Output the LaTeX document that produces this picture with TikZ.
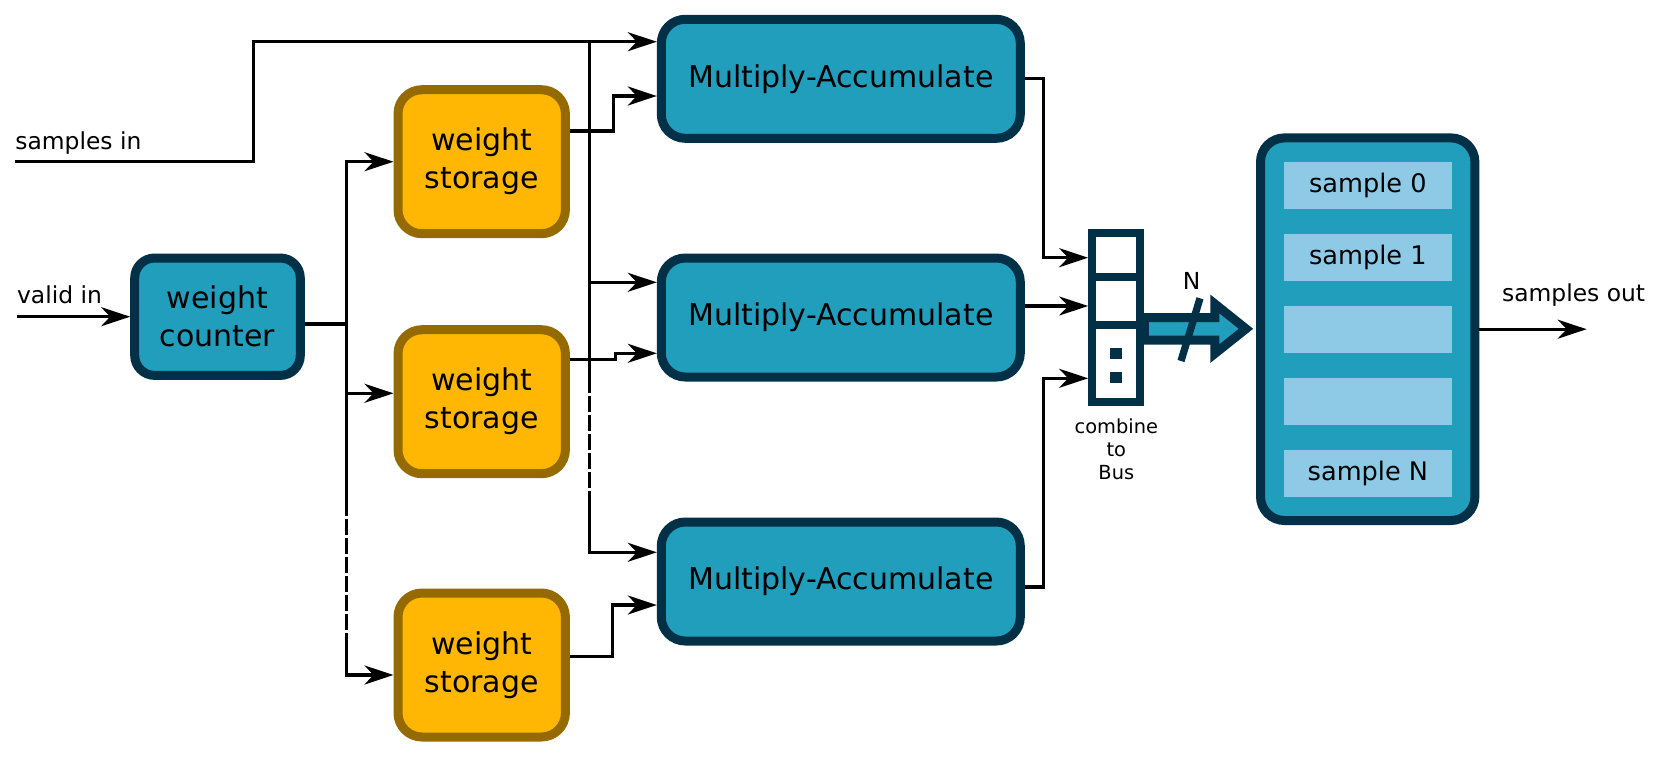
\documentclass[tikz,border=0pt]{standalone}
\usepackage{fontspec}
\setmainfont{DejaVu Sans}
\usepackage{tikz}
\usetikzlibrary{arrows.meta}
\definecolor{accnavy}{HTML}{023047}
\definecolor{accblue}{HTML}{219EBC}
\definecolor{slotblue}{HTML}{8ECAE6}
\definecolor{wsyellow}{HTML}{FFB703}
\definecolor{wsbrown}{HTML}{956A00}

\begin{document}
\begin{tikzpicture}[x=0.5pt, y=-0.5pt, >={Stealth[length=14.5pt, width=9.5pt, inset=4.5pt]},
  wire/.style={line width=1.6pt},
  feed/.style={wire, ->},
  dashwire/.style={wire, dash pattern=on 8pt off 1.5pt},
  block/.style={draw=accnavy, fill=accblue, line width=4.5pt, rounded corners=12pt,
    inner sep=0pt, align=center, font=\fontsize{15pt}{19pt}\selectfont},
  wsblock/.style={block, draw=wsbrown, fill=wsyellow, minimum width=83.7pt, minimum height=72pt},
  macblock/.style={block, minimum width=179.5pt, minimum height=59.5pt},
  slot/.style={fill=slotblue, minimum width=83.8pt, minimum height=23.5pt, inner sep=0pt,
    font=\fontsize{12.8pt}{15pt}\selectfont},
  lbl/.style={inner sep=0pt, font=\fontsize{11.7pt}{14pt}\selectfont},
  busarrow/.style={draw=accnavy, fill=accblue, line width=4.5pt, line join=miter}
]
  \useasboundingbox (0,0) rectangle (1656,756);

  % blocks
  \node[block, minimum width=82.8pt, minimum height=58.7pt, rounded corners=10pt] (wc) at (217.5,316.7) {weight\\counter};
  \foreach \i/\y in {1/161.7, 2/401.7, 3/665}
    \node[wsblock] (ws\i) at (481.7,\y) {weight\\storage};
  \foreach \i/\y in {1/78.8, 2/317.5, 3/581.5}
    \node[macblock] (mac\i) at (840.8,\y) {Multiply-Accumulate};

  % combine to bus
  \node[draw=accnavy, line width=4.15pt, minimum width=24pt, minimum height=84.2pt, inner sep=0pt] (bus) at (1116.3,317.5) {};
  \foreach \d in {24pt,48pt}
    \draw[accnavy, line width=4.15pt] ([yshift=-\d]bus.north west) -- ([yshift=-\d]bus.north east);
  \foreach \y in {347.7,371.7}
    \fill[accnavy] (1110,\y) rectangle ++(12.3,11.6);
  \node[inner sep=0pt, anchor=north, align=center, font=\fontsize{9.7pt}{11.5pt}\selectfont] (busl) at (1116.3,418.3) {combine\\to\\Bus};

  % sample store
  \node[block, minimum width=107.2pt, minimum height=191.3pt] (store) at (1367.7,329.2) {};
  \foreach \k/\txt in {0/sample 0, 1/sample 1, 2/, 3/, 4/sample N}
    \node[slot] (slot\k) at (1367.9,{185.8+71.8*\k}) {\txt};

  % inputs
  \coordinate (sin) at (15,161.7);
  \coordinate (vin) at (16.7,316.7);
  \coordinate (sout) at (1586.7,329.2);
  \node[lbl, anchor=base west] (sinl) at (15,149) {samples in};
  \node[lbl, anchor=base west] (vinl) at (16.7,303.3) {valid in};
  \node[lbl, anchor=base west] (soutl) at (1501.7,301.7) {samples out};

  \draw[feed] (vin) -- (wc.west);
  \draw[feed] (sin) -- (253.3,161.7) |- ([yshift=18.55pt]mac1.west);

  % samples spine
  \coordinate (sp) at (589.3,41.7);
  \coordinate (sp1) at (589.3,376.7);
  \coordinate (sp2) at (589.3,496.7);
  \draw[feed] (sp) |- ([yshift=17.6pt]mac2.west);
  \draw[wire] (sp) -- (sp1);
  \draw[dashwire] (sp1) -- (sp2);
  \draw[feed] (sp2) |- ([yshift=14.6pt]mac3.west);

  % weight fan-out
  \coordinate (split) at (346.7,324);
  \coordinate (dl1) at (346.7,500);
  \coordinate (dl2) at (346.7,640);
  \draw[wire] (wc.east |- split) -- (split);
  \draw[feed] (split) |- (ws1.west);
  \draw[feed] (split) |- ([yshift=4.2pt]ws2.west);
  \draw[wire] (split) -- (dl1);
  \draw[dashwire] (dl1) -- (dl2);
  \draw[feed] (dl2) |- ([yshift=-5pt]ws3.west);

  % weights to MACs
  \draw[feed] ([yshift=15.35pt]ws1.east) -- ++(43.3,0) |- ([yshift=-8.6pt]mac1.west);
  \draw[feed] ([yshift=21.2pt]ws2.east) -- ++(45.6,0) |- ([yshift=-17.9pt]mac2.west);
  \draw[feed] ([yshift=4.15pt]ws3.east) -- ++(42.3,0) |- ([yshift=-11.75pt]mac3.west);

  % MACs to bus
  \draw[feed] (mac1.east) -- ++(19,0) |- ([yshift=29.9pt]bus.west);
  \draw[feed] ([yshift=5.75pt]mac2.east) -- ([yshift=5.75pt]bus.west);
  \draw[feed] ([yshift=-2.75pt]mac3.east) -- ++(19,0) |- ([yshift=-30.4pt]bus.west);

  % bus to store
  \draw[busarrow] (bus.east) -- ++(70.5,0) -- ++(0,-13.5) -- ++(31,24.8) -- ++(-31,24.7)
    -- ++(0,-13.5) -- ++(-70.5,0) -- cycle;
  \draw[accnavy, line width=3.65pt] (1200,298.3) -- (1181,361);
  \node[lbl] (nl) at (1191.7,280.7) {N};

  \draw[feed] (store.east) -- (sout);
\end{tikzpicture}
\end{document}
